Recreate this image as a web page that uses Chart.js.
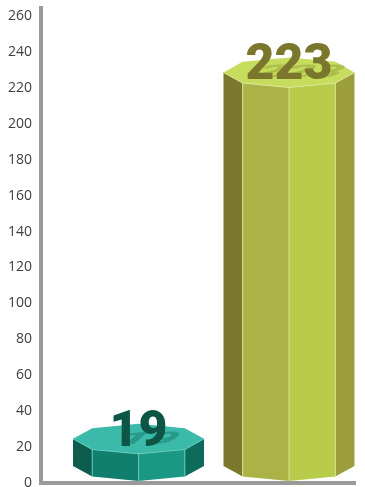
<!DOCTYPE html>
<html>
<head>
<meta charset="utf-8">
<script src="https://cdn.jsdelivr.net/npm/chart.js@4.4.0/dist/chart.umd.min.js"></script>
<style>
  html, body { margin: 0; padding: 0; background: #fff; }
</style>
</head>
<body>
<canvas id="chart" width="365" height="487"></canvas>
<script>
// Two octagonal prism columns on a plain value axis
const categories = ['Group A', 'Group B'];
const positions = [1, 2];
const values = [19, 223];
const yMin = 0;
const yMax = 260;
const yStep = 20;

// face colours: right, front-right, front-left, left, top
const palettes = [
  { sides: ['#0d6b5c', '#1b9884', '#117f6e', '#0d5d4e'], top: '#3bb9a9', edge: '#5fcabb', text: '#0d5646', shadow: 'rgba(10, 95, 78, 0.35)' },
  { sides: ['#9b9e3a', '#b9cb4a', '#abb246', '#7a792d'], top: '#c6dc5d', edge: '#dbe596', text: '#7a772d', shadow: 'rgba(125, 135, 40, 0.35)' }
];

const prismPlugin = {
  id: 'prisms',
  afterDatasetsDraw(chart) {
    const ctx = chart.ctx;
    const meta = chart.getDatasetMeta(0);
    meta.data.forEach((bar, i) => {
      const p = palettes[i];
      const cx = bar.x;
      const rx = bar.width / 2;
      const ry = 15;
      const topY = bar.y - 10;
      const botY = bar.base - ry - 2;
      const pt = (cy, k) => [cx + rx * Math.cos(k * Math.PI / 4), cy + ry * Math.sin(k * Math.PI / 4)];

      ctx.save();
      // side faces, front half of the octagon
      for (let k = 0; k < 4; k++) {
        const a = pt(topY, k), b = pt(topY, k + 1), c = pt(botY, k + 1), d = pt(botY, k);
        ctx.beginPath();
        ctx.moveTo(a[0], a[1]);
        ctx.lineTo(b[0], b[1]);
        ctx.lineTo(c[0], c[1]);
        ctx.lineTo(d[0], d[1]);
        ctx.closePath();
        ctx.fillStyle = p.sides[k];
        ctx.fill();
      }
      // thin light edges between the faces
      ctx.strokeStyle = p.edge;
      ctx.lineWidth = 1;
      for (let k = 1; k < 4; k++) {
        const a = pt(topY, k), d = pt(botY, k);
        ctx.beginPath();
        ctx.moveTo(a[0], a[1]);
        ctx.lineTo(d[0], d[1]);
        ctx.stroke();
      }
      // top face
      ctx.beginPath();
      for (let k = 0; k < 8; k++) {
        const q = pt(topY, k);
        if (k === 0) ctx.moveTo(q[0], q[1]); else ctx.lineTo(q[0], q[1]);
      }
      ctx.closePath();
      ctx.fillStyle = p.top;
      ctx.fill();
      ctx.beginPath();
      for (let k = 0; k <= 4; k++) {
        const q = pt(topY, k);
        if (k === 0) ctx.moveTo(q[0], q[1]); else ctx.lineTo(q[0], q[1]);
      }
      ctx.stroke();

      // value label with a flattened shadow lying on the top face
      const label = String(values[i]);
      const baseline = topY + 7;
      ctx.font = '900 50px Roboto';
      ctx.textAlign = 'center';
      ctx.textBaseline = 'alphabetic';
      ctx.save();
      ctx.translate(cx + 4, baseline - 2);
      ctx.transform(1, 0, -0.4, 0.35, 0, 0);
      ctx.fillStyle = p.shadow;
      ctx.fillText(label, 0, 0);
      ctx.restore();
      ctx.fillStyle = p.text;
      ctx.fillText(label, cx, baseline);
      ctx.restore();
    });
  },
  afterDraw(chart) {
    // value axis line runs a little past the top of the plot
    const { ctx, chartArea } = chart;
    ctx.save();
    ctx.fillStyle = '#9a9a9a';
    ctx.fillRect(chartArea.left - 2, chartArea.top - 10, 4, 10);
    ctx.restore();
  }
};

new Chart(document.getElementById('chart'), {
  type: 'bar',
  data: {
    labels: categories,
    datasets: [{
      data: positions.map((x, i) => ({ x: x, y: values[i] })),
      backgroundColor: 'rgba(0,0,0,0)',
      borderWidth: 0,
      barThickness: 131
    }]
  },
  options: {
    responsive: false,
    animation: false,
    layout: { padding: { top: 16, right: 10, bottom: 4, left: 0 } },
    plugins: {
      legend: { display: false },
      tooltip: { enabled: false }
    },
    scales: {
      x: {
        type: 'linear',
        offset: false,
        min: 0.352,
        max: 2.4385,
        afterFit(scale) { scale.height = 0; },
        grid: { display: false, drawTicks: false },
        ticks: { display: false },
        border: { color: '#9a9a9a', width: 4 }
      },
      y: {
        min: yMin,
        max: yMax,
        afterFit(scale) {
          scale.width = 41;
          scale.paddingTop = 0;
          scale.paddingBottom = 0;
        },
        grid: { display: false, drawTicks: false },
        border: { color: '#9a9a9a', width: 4 },
        ticks: {
          stepSize: yStep,
          padding: 9,
          color: '#404040',
          font: { family: 'Open Sans', size: 14 }
        }
      }
    }
  },
  plugins: [prismPlugin]
});
</script>
</body>
</html>
